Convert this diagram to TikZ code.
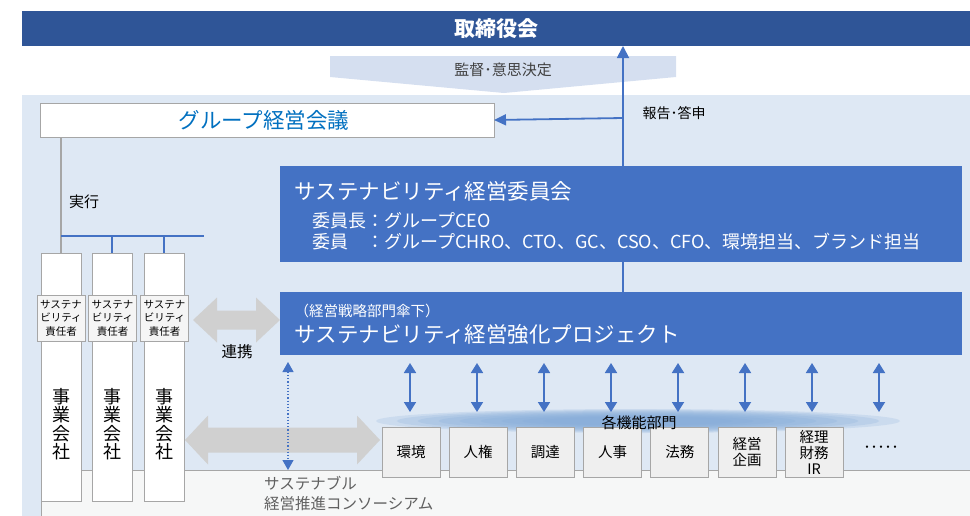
\documentclass[tikz,border=0pt]{standalone}
\usepackage{fontspec}
\setmainfont{Noto Sans CJK JP}
\usetikzlibrary{arrows.meta}
\definecolor{darkblue}{HTML}{2F5597}
\definecolor{midblue}{HTML}{4472C4}
\definecolor{bgblue}{HTML}{DEE8F4}
\definecolor{chev}{HTML}{D5DFF0}
\definecolor{txtblue}{HTML}{0070C0}
\definecolor{linegray}{HTML}{A6A6A6}
\definecolor{boxgray}{HTML}{EFEFEF}
\definecolor{arrgray}{HTML}{D0D0D0}
\definecolor{consfill}{HTML}{F6F7F7}
\definecolor{glow}{HTML}{7FA8D8}
\definecolor{darktext}{HTML}{404040}
\definecolor{constext}{HTML}{606060}
\newcommand\fsz[2]{\fontsize{#1}{#2}\selectfont}
\begin{document}
\begin{tikzpicture}[x=1pt,y=-1pt,
  box/.style={rectangle, inner sep=0pt, outer sep=0pt},
  whitebox/.style={box, fill=white, draw=linegray, line width=1pt},
  deptbox/.style={box, fill=boxgray, draw=linegray, line width=1pt, minimum width=58pt, minimum height=50pt, align=center, font=\fsz{14.5}{16}},
  rkbox/.style={box, fill=boxgray!60, draw=linegray, line width=1pt, minimum width=48pt, minimum height=46pt, align=center, font=\fsz{10.5}{13.5}},
  colbox/.style={whitebox, minimum width=40pt, minimum height=248pt},
  coltext/.style={align=center, font=\fsz{18}{18.5}, inner sep=0pt},
  barrow/.style={midblue, line width=1.8pt, {Triangle[width=12pt,length=10pt]}-{Triangle[width=12pt,length=10pt]}},
  bluebox/.style={box, fill=midblue, minimum width=682pt}
]
\useasboundingbox (0,0) rectangle (970,515);
% background region
\fill[bgblue] (22,95) rectangle (975,520);
% chevron
\fill[chev] (330,56) -- (676,56) -- (676,77) -- (504,93) -- (330,77) -- cycle;
\node[font=\fsz{15}{15}, text=darktext] (kansa) at (503,70) {監督･意思決定};
% board
\node[box, fill=darkblue, minimum width=948pt, minimum height=35pt, text=white, font=\fsz{21}{21}\bfseries] (board) at (496,28.5) {取締役会};
% group meeting
\node[whitebox, minimum width=454pt, minimum height=34pt] (group) at (267,120) {};
\node[text=txtblue, font=\fsz{21.5}{21.5}, inner sep=0pt] (grouptxt) at (264,120) {グループ経営会議};
% glow
\foreach \s in {1,0.92,...,0.3}{
  \fill[glow, opacity=0.2] (638,421) ellipse ({262*\s} and {12*\s});
}
% consortium
\node[box, fill=consfill, draw=linegray, line width=1pt, minimum width=934pt, minimum height=50pt] (cons) at (508,495) {};
\node[anchor=west, align=left, text=constext, font=\fsz{15.5}{20}, inner sep=0pt] (constxt) at (264,493) {サステナブル\\経営推進コンソーシアム};
% company columns
\foreach \i/\x/\rx in {1/61/61, 2/112/112.5, 3/164/164.5}{
  \node[colbox] (col\i) at (\x,377) {};
  \node[coltext] (ct\i) at (\x,424) {事\\業\\会\\社};
  \node[rkbox] (rk\i) at (\rx,318) {サステナ\\ビリティ\\責任者};
}
% tree lines
\coordinate (tj) at (61,236);
\coordinate (tr) at (204,236);
\draw[linegray, line width=1.5pt] (group.south -| col1.north) -- (col1.north);
\draw[midblue, line width=1.5pt] (tj) -- (tr);
\draw[midblue, line width=1.5pt] (tj -| col2.north) -- (col2.north);
\draw[midblue, line width=1.5pt] (tj -| col3.north) -- (col3.north);
\node[font=\fsz{15}{15}] (jikko) at (84,202) {実行};
% committee
\node[bluebox, minimum height=96pt] (comm) at (621,214) {};
\node[anchor=west, text=white, font=\fsz{21.5}{21.5}, inner sep=0pt] (commtitle) at (294.5,191) {サステナビリティ経営委員会};
\node[anchor=west, text=white, font=\fsz{18}{21}, align=left, inner sep=0pt] (commmem) at (312,231)
  {\makebox[3em][l]{委員長}：グループCEO\\\makebox[3em][l]{委員}：グループCHRO、CTO、GC、CSO、CFO、環境担当、ブランド担当};
% project
\node[bluebox, minimum height=63pt] (proj) at (621,323.5) {};
\node[anchor=west, text=white, font=\fsz{14.5}{14.5}, inner sep=0pt] (projsub) at (294.5,311) {（経営戦略部門傘下）};
\node[anchor=west, text=white, font=\fsz{21.5}{21.5}, inner sep=0pt] (projtitle) at (294.5,334) {サステナビリティ経営強化プロジェクト};
% vertical spine and arrows
\coordinate (sp) at (623,166);
\coordinate (sj) at (623,118);
\draw[midblue, line width=1.8pt, -{Triangle[width=12pt,length=12pt]}] (sp) -- (sp |- board.south);
\draw[midblue, line width=1.8pt, -{Triangle[width=11pt,length=12pt]}] (sj) -- (group.east);
\draw[midblue, line width=1.8pt] (sp |- comm.south) -- (sp |- proj.north);
\node[anchor=west, font=\fsz{14}{14}] (hokoku) at (639,113) {報告･答申};
% gray double arrows
\fill[arrgray] (193,320) -- (217,297.5) -- (217,310.5) -- (256,310.5) -- (256,297.5) -- (280,320) -- (256,342.5) -- (256,329.5) -- (217,329.5) -- (217,342.5) -- cycle;
\node[font=\fsz{15.5}{15.5}] (renkei) at (237,352) {連携};
\fill[arrgray] (185,440) -- (208,415.5) -- (208,427.5) -- (357,427.5) -- (357,415.5) -- (380,440) -- (357,464.5) -- (357,452.5) -- (208,452.5) -- (208,464.5) -- cycle;
% departments
\foreach \i/\t [count=\k from 0] in {1/環境, 2/人権, 3/調達, 4/人事, 5/法務, 6/経営\\企画, 7/経理\\財務\\IR}{
  \node[deptbox] (d\i) at ({411+67.2*\k},452) {\t};
}
\node[font=\fsz{14}{14}, inner sep=0pt] (dots) at (881,449) {･････};
% dept arrows
\foreach \i/\x in {1/410, 2/477, 3/544, 4/611, 5/678, 6/745, 7/812, 8/879}{
  \coordinate (ua\i) at (\x,363);
  \coordinate (la\i) at (\x,412);
  \draw[barrow] (ua\i) -- (la\i);
}
% dotted arrow
\coordinate (dt) at (288,362);
\draw[midblue, line width=1.2pt, dotted, {Triangle[width=11pt,length=10pt]}-{Triangle[width=11pt,length=10pt]}] (dt) -- (dt |- cons.north);
% label
\node[font=\fsz{15}{15}, inner sep=0pt] (kakukino) at (639,423) {各機能部門};
\end{tikzpicture}
\end{document}
